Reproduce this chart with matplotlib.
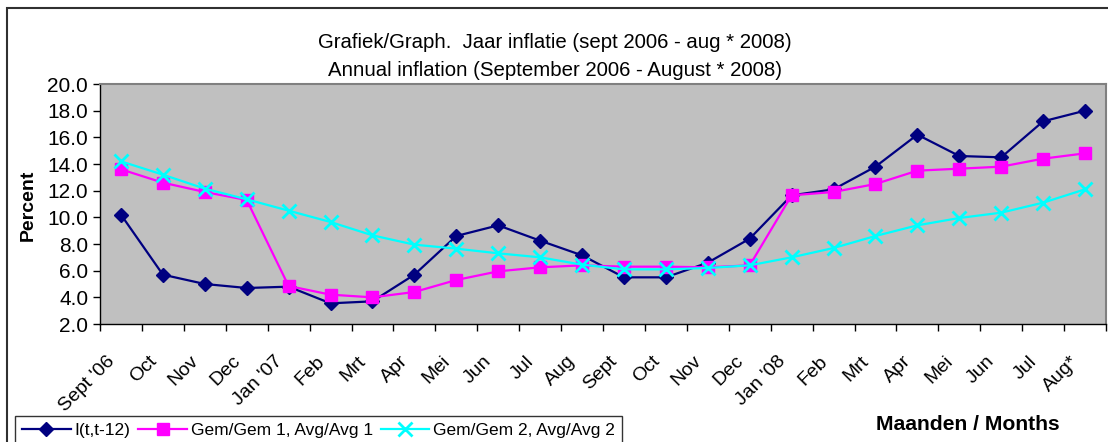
import numpy as np
import matplotlib.pyplot as plt
import matplotlib.transforms as mtransforms
from matplotlib.patches import Rectangle

plt.rcParams['font.family'] = ['Liberation Sans', 'DejaVu Sans']

months = ["Sept '06", "Oct", "Nov", "Dec", "Jan '07", "Feb", "Mrt", "Apr", "Mei",
          "Jun", "Jul", "Aug", "Sept", "Oct", "Nov", "Dec", "Jan '08", "Feb", "Mrt",
          "Apr", "Mei", "Jun", "Jul", "Aug*"]

# I(t,t-12)
infl = [10.2, 5.7, 5.0, 4.7, 4.8, 3.55, 3.7, 5.7, 8.6, 9.4, 8.25, 7.15,
        5.5, 5.5, 6.6, 8.4, 11.65, 12.1, 13.8, 16.2, 14.6, 14.5, 17.2, 18.0]
# Gem/Gem 1
avg1 = [13.6, 12.6, 11.9, 11.3, 4.85, 4.2, 4.0, 4.4, 5.3, 5.95, 6.25, 6.4,
        6.3, 6.3, 6.25, 6.4, 11.65, 11.9, 12.5, 13.5, 13.65, 13.8, 14.4, 14.8]
# Gem/Gem 2
avg2 = [14.2, 13.2, 12.15, 11.35, 10.5, 9.65, 8.65, 7.95, 7.65, 7.3, 7.0, 6.45,
        6.1, 6.1, 6.2, 6.4, 7.0, 7.7, 8.6, 9.4, 9.95, 10.35, 11.1, 12.1]

fig = plt.figure(figsize=(11.08, 4.42), dpi=100)
ax = fig.add_axes([100 / 1108, 1 - 324 / 442, 1006 / 1108, 240 / 442])
ax.set_facecolor('#C0C0C0')

x = np.arange(len(months))
ax.plot(x, infl, color='#000080', marker='D', markersize=7.5, lw=1.6,
        label='I(t,t-12)')
ax.plot(x, avg1, color='#FF00FF', marker='s', markersize=9, lw=1.6,
        label='Gem/Gem 1, Avg/Avg 1')
ax.plot(x, avg2, color='#00FFFF', marker='x', markersize=10, mew=2, lw=1.6,
        label='Gem/Gem 2, Avg/Avg 2')

ax.set_xlim(-0.5, len(months) - 0.5)
ax.set_ylim(2, 20)
ax.set_yticks(np.arange(2, 20.1, 2))
ax.set_yticklabels([f"{v:.1f}" for v in np.arange(2, 20.1, 2)], fontsize=15)

ax.set_xticks(np.arange(-0.5, len(months), 1))
ax.set_xticklabels([])
ax.set_xticks(x, minor=True)
ax.set_xticklabels(months, minor=True, rotation=45, ha='right', va='center',
                   rotation_mode='anchor', fontsize=14)
ax.tick_params(axis='x', which='minor', length=0, pad=25)
ax.tick_params(axis='both', which='major', length=5, width=1, direction='out')
shift = mtransforms.ScaledTranslation(-9 / 100, 0, fig.dpi_scale_trans)
for lab in ax.get_xticklabels(minor=True):
    lab.set_transform(lab.get_transform() + shift)

for s in ['top', 'right']:
    ax.spines[s].set_color('#808080')
    ax.spines[s].set_linewidth(1.5)
for s in ['left', 'bottom']:
    ax.spines[s].set_color('black')
    ax.spines[s].set_linewidth(1)

fig.text(0.501, 1 - 43 / 442, "Grafiek/Graph.  Jaar inflatie (sept 2006 - aug * 2008)",
         ha='center', va='center', fontsize=14.7)
fig.text(0.501, 1 - 70 / 442, "Annual inflation (September 2006 - August * 2008)",
         ha='center', va='center', fontsize=14.7)
fig.text(28 / 1108, 1 - 205 / 442, "Percent", rotation=90, ha='center', va='center',
         fontsize=14, fontweight='bold')
fig.text(968 / 1108, 1 - 425 / 442, "Maanden / Months", ha='center', va='center',
         fontsize=15.2, fontweight='bold')

leg = fig.legend(loc='upper left', bbox_to_anchor=(15 / 1108, 1 - 416 / 442), ncol=3,
                 fontsize=12.5, frameon=True, fancybox=False, edgecolor='black',
                 handlelength=2.8, columnspacing=0.45, handletextpad=0.23,
                 borderpad=0.4, borderaxespad=0)
leg.get_frame().set_linewidth(1)

fig.add_artist(Rectangle((7 / 1108, -0.1), 1.2, 1 - 8 / 442 + 0.1,
                         transform=fig.transFigure, fill=False,
                         edgecolor='#303030', lw=1.5))

fig.savefig('out.png', dpi=100)
